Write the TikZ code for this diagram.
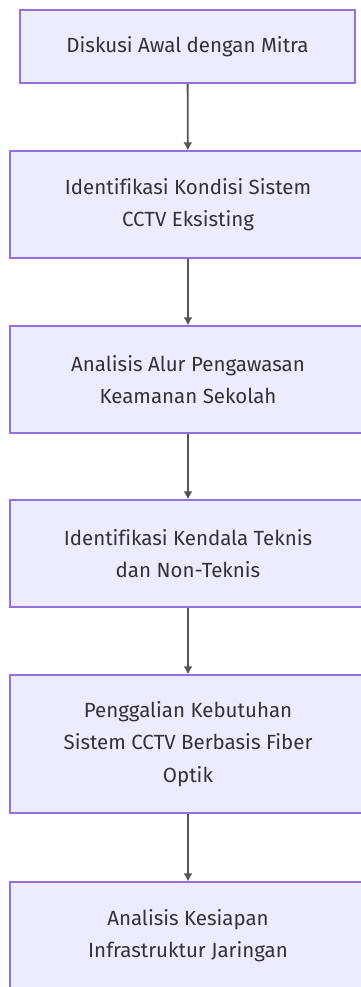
\documentclass[tikz,border=0pt]{standalone}
\usepackage{fontspec}
\setmainfont[Ligatures=NoCommon]{Fira Sans}
\usepackage{tikz}
\usetikzlibrary{arrows.meta}
\definecolor{boxfill}{HTML}{ECECFF}
\definecolor{boxline}{HTML}{9370DB}
\definecolor{textgray}{HTML}{333333}
\definecolor{linegray}{HTML}{555555}

\begin{document}
\begin{tikzpicture}[x=1pt,y=1pt]
\tikzstyle{every node}+=[inner sep=0pt]
\tikzstyle{stepbox}=[draw=boxline, line width=1.2pt, fill=boxfill, text=textgray,
  align=center, minimum width=356pt, minimum height=107pt,
  font=\fontsize{20.5}{32.5}\selectfont]
\tikzstyle{flow}=[draw=linegray, line width=1.8pt, -{Latex[length=8pt,width=9pt]}]
\useasboundingbox (0,0) rectangle (361,-987);
\clip (0,0) rectangle (361,-987);
\node [stepbox, minimum width=335pt, minimum height=73pt] (diskusi) at (187.5,-46.5) {Diskusi Awal dengan Mitra};
\node [stepbox] (kondisi) at (188,-204.5) {Identifikasi Kondisi Sistem\\CCTV Eksisting};
\node [stepbox] (alur) at (188,-379.5) {Analisis Alur Pengawasan\\Keamanan Sekolah};
\node [stepbox] (kendala) at (188,-553.5) {Identifikasi Kendala Teknis\\dan Non-Teknis};
\node [stepbox, minimum height=138pt] (kebutuhan) at (188,-744) {Penggalian Kebutuhan\\Sistem CCTV Berbasis Fiber\\Optik};
\node [stepbox] (kesiapan) at (188,-935.5) {Analisis Kesiapan\\Infrastruktur Jaringan};
\draw [flow] (diskusi) -- (kondisi);
\draw [flow] (kondisi) -- (alur);
\draw [flow] (alur) -- (kendala);
\draw [flow] (kendala) -- (kebutuhan);
\draw [flow] (kebutuhan) -- (kesiapan);
\end{tikzpicture}
\end{document}
